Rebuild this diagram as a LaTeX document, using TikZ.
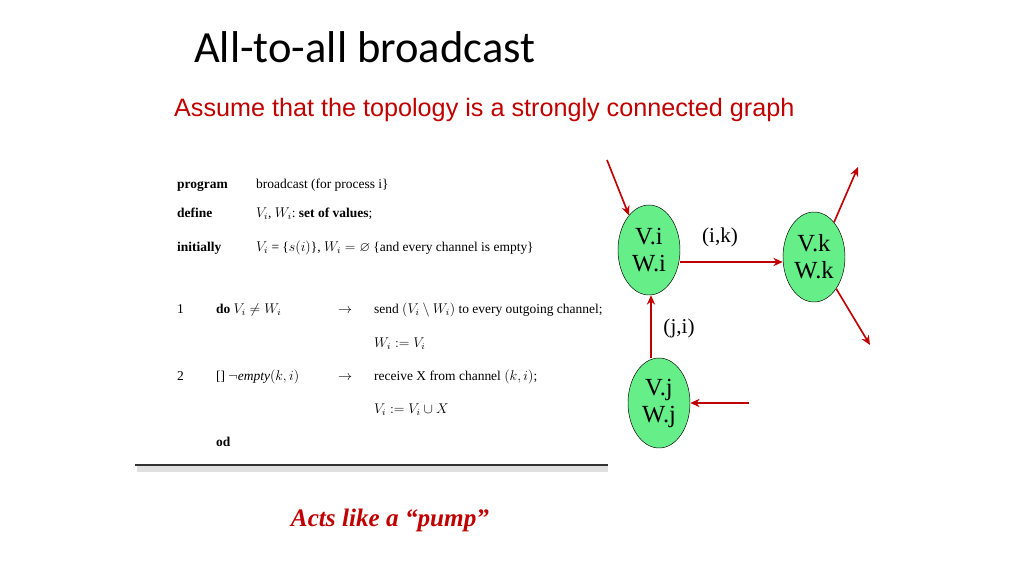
\documentclass[tikz,border=0pt]{standalone}
\usepackage{fontspec}
\setmainfont{Liberation Serif}
\newfontfamily\titlefont{Carlito}
\newfontfamily\armfont{Liberation Sans}
\usepackage{amssymb}
\usetikzlibrary{shapes.geometric,arrows.meta}
\definecolor{nodegreen}{RGB}{102,238,136}
\definecolor{edgered}{RGB}{192,0,0}
\begin{document}
\begin{tikzpicture}[x=0.03cm,y=-0.03cm,
    proc/.style={ellipse,draw=black,fill=nodegreen,minimum width=1.86cm,minimum height=2.7cm,
        inner sep=0pt,align=center,font=\fontsize{21}{23}\selectfont},
    chan/.style={draw=edgered,line width=1.4pt,-{Stealth[length=8pt,width=7pt]}},
    kw/.style={anchor=base west,font=\bfseries\fontsize{11.5}{14}\selectfont},
    txt/.style={anchor=base west,font=\fontsize{11.5}{14}\selectfont}]
    \useasboundingbox (0,0) rectangle (1024,576);
    % title
    \node[anchor=west,font=\titlefont\fontsize{38}{42}\selectfont] (title) at (190,47) {All-to-all broadcast};
    \node[anchor=west,text=edgered,font=\armfont\fontsize{21.5}{24}\selectfont] (sub) at (170,110)
        {Assume that the topology is a strongly connected graph};
    % program
    \node[kw] (p1) at (173,188) {program};
    \node[txt] (p1r) at (252,188) {broadcast (for process i\}};
    \node[kw] (p2) at (173,217) {define};
    \node[txt] (p2r) at (252,217) {$V_i$, $W_i$:\ \textbf{set of values};};
    \node[kw] (p3) at (173,251) {initially};
    \node[txt] (p3r) at (252,251) {$V_i$ = \{$s(i)$\}, $W_i=\varnothing$\ \{and every channel is empty\}};
    \node[txt] (n1) at (173,313) {1};
    \node[txt] (g1) at (212,313) {\textbf{do} $V_i\neq W_i$};
    \node[txt] (a1) at (334,313) {$\rightarrow$};
    \node[txt] (s1) at (370,313) {send $(V_i\setminus W_i)$ to every outgoing channel;};
    \node[txt] (s2) at (370,347) {$W_i:=V_i$};
    \node[txt] (n2) at (173,380) {2};
    \node[txt] (g2) at (212,380) {[]\ $\neg\mathit{empty}(k,i)$};
    \node[txt] (a2) at (334,380) {$\rightarrow$};
    \node[txt] (s3) at (370,380) {receive X from channel $(k,i)$;};
    \node[txt] (s4) at (370,413) {$V_i:=V_i\cup X$};
    \node[kw] (od) at (212,446) {od};
    \fill[black!12] (137,466) rectangle (608,472);
    \draw[black!80,line width=1.2pt] (135,465) -- (608,465);
    % graph
    \node[proc] (vi) at (649,250) {V.i\\W.i};
    \node[proc] (vk) at (814,257) {V.k\\W.k};
    \node[proc] (vj) at (659,403) {V.j\\W.j};
    \coordinate (ini) at (607,160);
    \coordinate (inj) at (749,403);
    \coordinate (outa) at (858,167);
    \coordinate (outb) at (870,345);
    \draw[chan] (ini) -- (vi.120);
    \draw[chan] (vi.east |- 0,262) -- (vk.west |- 0,262);
    \draw[chan] (vj.north -| 651,0) -- (vi.south -| 651,0);
    \draw[chan] (inj) -- (vj.east);
    \draw[chan] (vk.60) -- (outa);
    \draw[chan] (vk.-55) -- (outb);
    \node[font=\fontsize{18}{20}\selectfont] (ik) at (720,237) {(i,k)};
    \node[font=\fontsize{18}{20}\selectfont] (ji) at (679,328) {(j,i)};
    % footer
    \node[text=edgered,font=\bfseries\itshape\fontsize{21.5}{24}\selectfont] (pump) at (390,520) {Acts like a “pump”};
\end{tikzpicture}
\end{document}
